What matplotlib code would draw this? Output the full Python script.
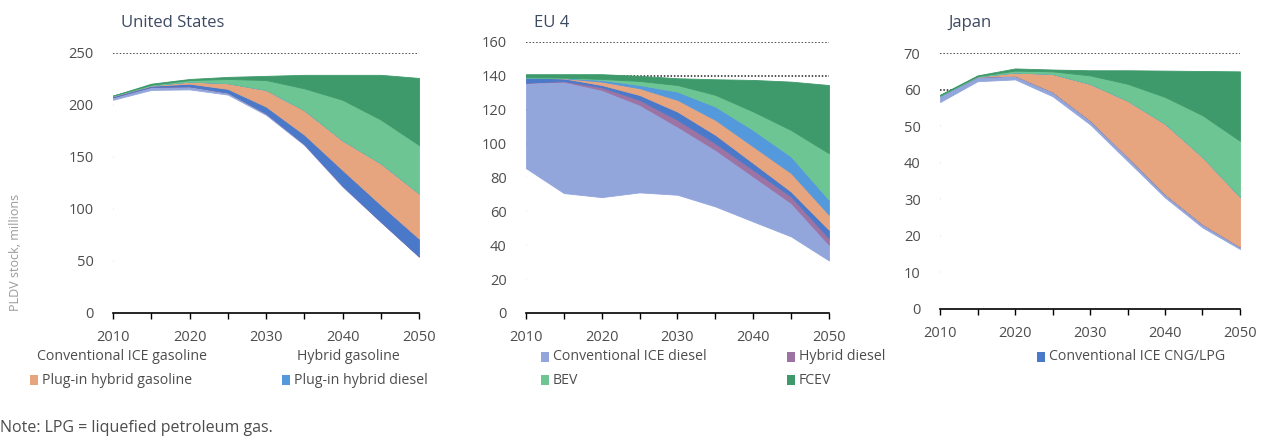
import matplotlib
matplotlib.use("Agg")
import matplotlib.pyplot as plt
from matplotlib.patches import Rectangle

plt.rcParams['font.family'] = ['Open Sans', 'DejaVu Sans']

years = [2010, 2015, 2020, 2025, 2030, 2035, 2040, 2045, 2050]

series_names = ["Conventional ICE gasoline", "Hybrid gasoline", "Conventional ICE diesel",
                "Hybrid diesel", "Conventional ICE CNG/LPG", "Plug-in hybrid gasoline",
                "Plug-in hybrid diesel", "BEV", "FCEV"]
series_colors = ["#ffffff", "#ffffff", "#93a6dc", "#9c73a3", "#4b79c9", "#e6a57f",
                 "#5599dd", "#6dc593", "#3e9a6b"]

# stock per powertrain, millions of vehicles
us_ice_gasoline = [202, 208.5, 205, 194, 168.5, 135.5, 95.5, 65.5, 38]
us_hybrid_gasoline = [3, 6, 10, 16, 22, 26, 26, 22, 16]
us_ice_diesel = [2.5, 3, 3, 2, 1.5, 1, 1, 0.5, 0.5]
us_hybrid_diesel = [0, 0, 0, 0, 0, 0, 0, 0, 0]
us_ice_cng = [1, 1, 2.5, 3.5, 6.5, 9, 15, 16, 17]
us_phev_gasoline = [0.5, 0.5, 2, 5.5, 16, 23.5, 28.5, 40, 43.5]
us_phev_diesel = [0, 0, 0, 0, 0, 0, 0, 0, 0]
us_bev = [0, 0.5, 1.5, 4, 9.5, 21, 39, 42, 46.5]
us_fcev = [0, 1, 1, 2, 4, 13, 24, 43, 64.5]

eu_ice_gasoline = [85, 69.8, 66.4, 67.2, 63.8, 54.9, 45, 36.2, 23]
eu_hybrid_gasoline = [0.5, 1, 2, 4, 6, 8, 9, 9, 8]
eu_ice_diesel = [50.5, 65.8, 63.3, 51.7, 40.2, 33.4, 26.6, 19.7, 9.3]
eu_hybrid_diesel = [0, 0.4, 1.6, 2.9, 4, 3.9, 3.9, 3.9, 3.9]
eu_ice_cng = [3, 1.5, 1.3, 2.9, 4.9, 5, 4, 2.9, 4.9]
eu_phev_gasoline = [0, 0.1, 2, 4, 6.9, 8.8, 9.8, 10.9, 8.9]
eu_phev_diesel = [0, 0.2, 1, 1.9, 4.9, 7.9, 9.7, 9.8, 8.8]
eu_bev = [0.2, 0.2, 0.6, 2.4, 3.9, 6.9, 11, 15.6, 27.5]
eu_fcev = [1.8, 2.0, 2.8, 3.0, 4.0, 9.2, 18.6, 28.6, 40.3]

jp_ice_gasoline = [53.6, 57.3, 54.8, 46.2, 36.5, 27.5, 19.5, 13.3, 9.4]
jp_hybrid_gasoline = [3, 5, 8, 12, 14, 13, 11, 9, 7]
jp_ice_diesel = [1.8, 1.2, 1.0, 1.2, 1.1, 1.1, 0.9, 0.9, 0.6]
jp_hybrid_diesel = [0, 0, 0, 0, 0, 0, 0, 0, 0]
jp_ice_cng = [0, 0, 0, 0, 0, 0, 0, 0, 0]
jp_phev_gasoline = [0, 0.1, 0.9, 4.9, 10, 15.4, 19.3, 18.4, 13.7]
jp_phev_diesel = [0, 0, 0, 0, 0, 0, 0, 0, 0]
jp_bev = [0, 0.1, 0.5, 0.7, 2.3, 4.6, 7.3, 11.4, 15.3]
jp_fcev = [0.2, 0.2, 0.6, 0.5, 1.4, 3.7, 7.2, 12.1, 19]

regions = [
    ("United States", [0.0894, 0.2935, 0.2421, 0.5869], 250, 50,
     [us_ice_gasoline, us_hybrid_gasoline, us_ice_diesel, us_hybrid_diesel, us_ice_cng,
      us_phev_gasoline, us_phev_diesel, us_bev, us_fcev]),
    ("EU 4", [0.4161, 0.2935, 0.2397, 0.6117], 160, 20,
     [eu_ice_gasoline, eu_hybrid_gasoline, eu_ice_diesel, eu_hybrid_diesel, eu_ice_cng,
      eu_phev_gasoline, eu_phev_diesel, eu_bev, eu_fcev]),
    ("Japan", [0.7437, 0.3025, 0.2373, 0.5777], 70, 10,
     [jp_ice_gasoline, jp_hybrid_gasoline, jp_ice_diesel, jp_hybrid_diesel, jp_ice_cng,
      jp_phev_gasoline, jp_phev_diesel, jp_bev, jp_fcev]),
]

text_color = "#4d4d4d"
W, H = 1264, 443

fig = plt.figure(figsize=(W / 100, H / 100), dpi=100)

for title, rect, ymax, ystep, stacks in regions:
    ax = fig.add_axes(rect)
    yticks = list(range(0, ymax + 1, ystep))
    # dotted gridlines sit behind the (partly white) areas
    for y in yticks[1:]:
        ax.axhline(y, color="#222222", lw=1.1, ls=(0, (1, 1.2)), zorder=0)
    polys = ax.stackplot(years, stacks, colors=series_colors, zorder=1)
    for p, c in zip(polys, series_colors):
        p.set_edgecolor(c)
        p.set_linewidth(0.6)
    ax.set_xlim(2010, 2050)
    ax.set_ylim(0, ymax)
    ax.set_yticks(yticks)
    ax.set_xticks([2010, 2020, 2030, 2040, 2050])
    ax.set_xticks([2015, 2025, 2035, 2045], minor=True)
    for side in ["top", "right", "left"]:
        ax.spines[side].set_visible(False)
    ax.spines["bottom"].set_linewidth(1.2)
    ax.spines["bottom"].set_zorder(3)
    ax.tick_params(axis="y", length=0, pad=14, labelsize=10.5, labelcolor=text_color)
    ax.tick_params(axis="x", which="both", length=4, width=1, direction="out",
                   pad=8, labelsize=10.5, labelcolor=text_color)
    fig.text(rect[0] + 8 / W, (H - 23) / H, title, fontsize=12, color="#3d4a63",
             va="center", ha="left")

fig.text(0.012, 0.43, "PLDV stock, millions", rotation=90, fontsize=9,
         color="#9a9a9a", ha="center", va="center")

# legend laid out in two rows under the panels
legend_rows = [
    [(37, 0, False), (297, 1, False), (541, 2, True), (787, 3, True), (1037, 4, True)],
    [(30, 5, True), (282, 6, True), (541, 7, True), (787, 8, True)],
]
for row_y, row in zip([357, 380], legend_rows):
    for x_px, idx, show_patch in row:
        if show_patch:
            fig.patches.append(Rectangle((x_px / W, (H - row_y - 5) / H), 8 / W, 10 / H,
                                         transform=fig.transFigure,
                                         facecolor=series_colors[idx], edgecolor="none"))
            tx = x_px + 12
        else:
            tx = x_px
        fig.text(tx / W, (H - row_y) / H, series_names[idx], fontsize=10.2,
                 color=text_color, va="center", ha="left")

fig.text(0.0, (H - 428) / H, "Note: LPG = liquefied petroleum gas.", fontsize=11.5,
         color=text_color, va="center", ha="left")

fig.savefig("out.png", dpi=100)
